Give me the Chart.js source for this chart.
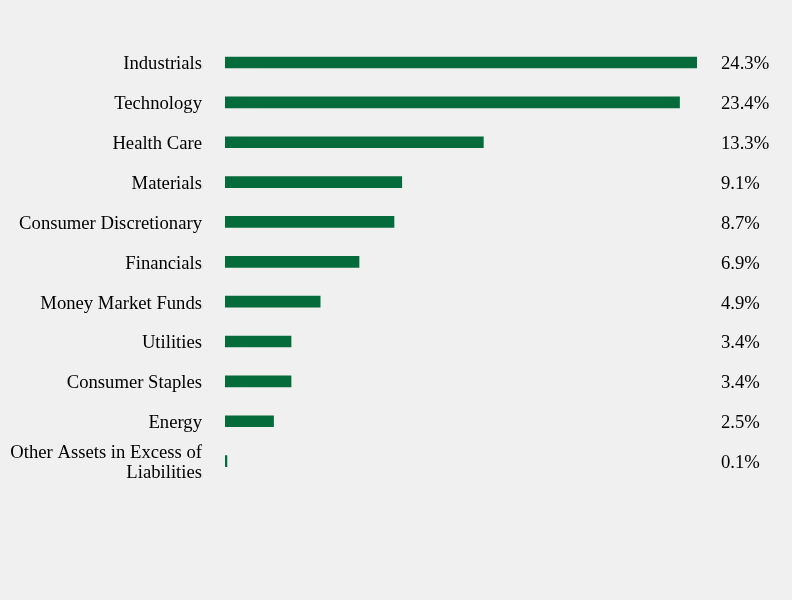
<!DOCTYPE html>
<html>
<head>
<meta charset="utf-8">
<script src="https://cdn.jsdelivr.net/npm/chart.js@4.4.1/dist/chart.umd.min.js"></script>
<style>
    html, body { margin: 0; padding: 0; background: #f0f0f0; }
    #wrap { position: relative; width: 792px; height: 600px; }
</style>
</head>
<body>
<div id="wrap"><canvas id="sectorChart"></canvas></div>
<script>
const categories = [
    'Industrials',
    'Technology',
    'Health Care',
    'Materials',
    'Consumer Discretionary',
    'Financials',
    'Money Market Funds',
    'Utilities',
    'Consumer Staples',
    'Energy',
    ['Other Assets in Excess of', 'Liabilities']
];
const weights = [24.3, 23.4, 13.3, 9.1, 8.7, 6.9, 4.9, 3.4, 3.4, 2.5, 0.1];
const valueLabels = ['24.3%', '23.4%', '13.3%', '9.1%', '8.7%', '6.9%', '4.9%', '3.4%', '3.4%', '2.5%', '0.1%'];

const FONT = '"Liberation Serif", "Times New Roman", serif';

// draws the percentage text to the right of the plot area
const valueLabelPlugin = {
    id: 'valueLabels',
    afterDatasetsDraw(chart) {
        const ctx = chart.ctx;
        const yScale = chart.scales.y;
        ctx.save();
        ctx.font = '18.67px ' + FONT;
        ctx.fillStyle = '#000000';
        ctx.textAlign = 'left';
        ctx.textBaseline = 'middle';
        valueLabels.forEach((txt, i) => {
            ctx.fillText(txt, chart.chartArea.right + 24, yScale.getPixelForValue(i) + 2);
        });
        ctx.restore();
    }
};

document.addEventListener('DOMContentLoaded', function () {
    const ctx = document.getElementById('sectorChart').getContext('2d');
    new Chart(ctx, {
        type: 'bar',
        data: {
            labels: categories,
            datasets: [{
                data: weights,
                backgroundColor: '#066b3b',
                borderWidth: 0,
                barThickness: 11
            }]
        },
        options: {
            indexAxis: 'y',
            responsive: true,
            maintainAspectRatio: false,
            animation: false,
            layout: {
                padding: { top: 40, bottom: 119, left: 0, right: 95 }
            },
            plugins: {
                legend: { display: false },
                tooltip: { enabled: false }
            },
            scales: {
                x: {
                    display: false,
                    min: 0,
                    max: 24.3
                },
                y: {
                    grid: { display: false, drawTicks: false },
                    border: { display: false },
                    ticks: {
                        color: '#000000',
                        padding: 23,
                        autoSkip: false,
                        labelOffset: 2,
                        font: { family: FONT, size: 18.67, lineHeight: 1.05 }
                    },
                    afterFit(scale) { scale.width = 225; }
                }
            }
        },
        plugins: [valueLabelPlugin]
    });
});
</script>
</body>
</html>
